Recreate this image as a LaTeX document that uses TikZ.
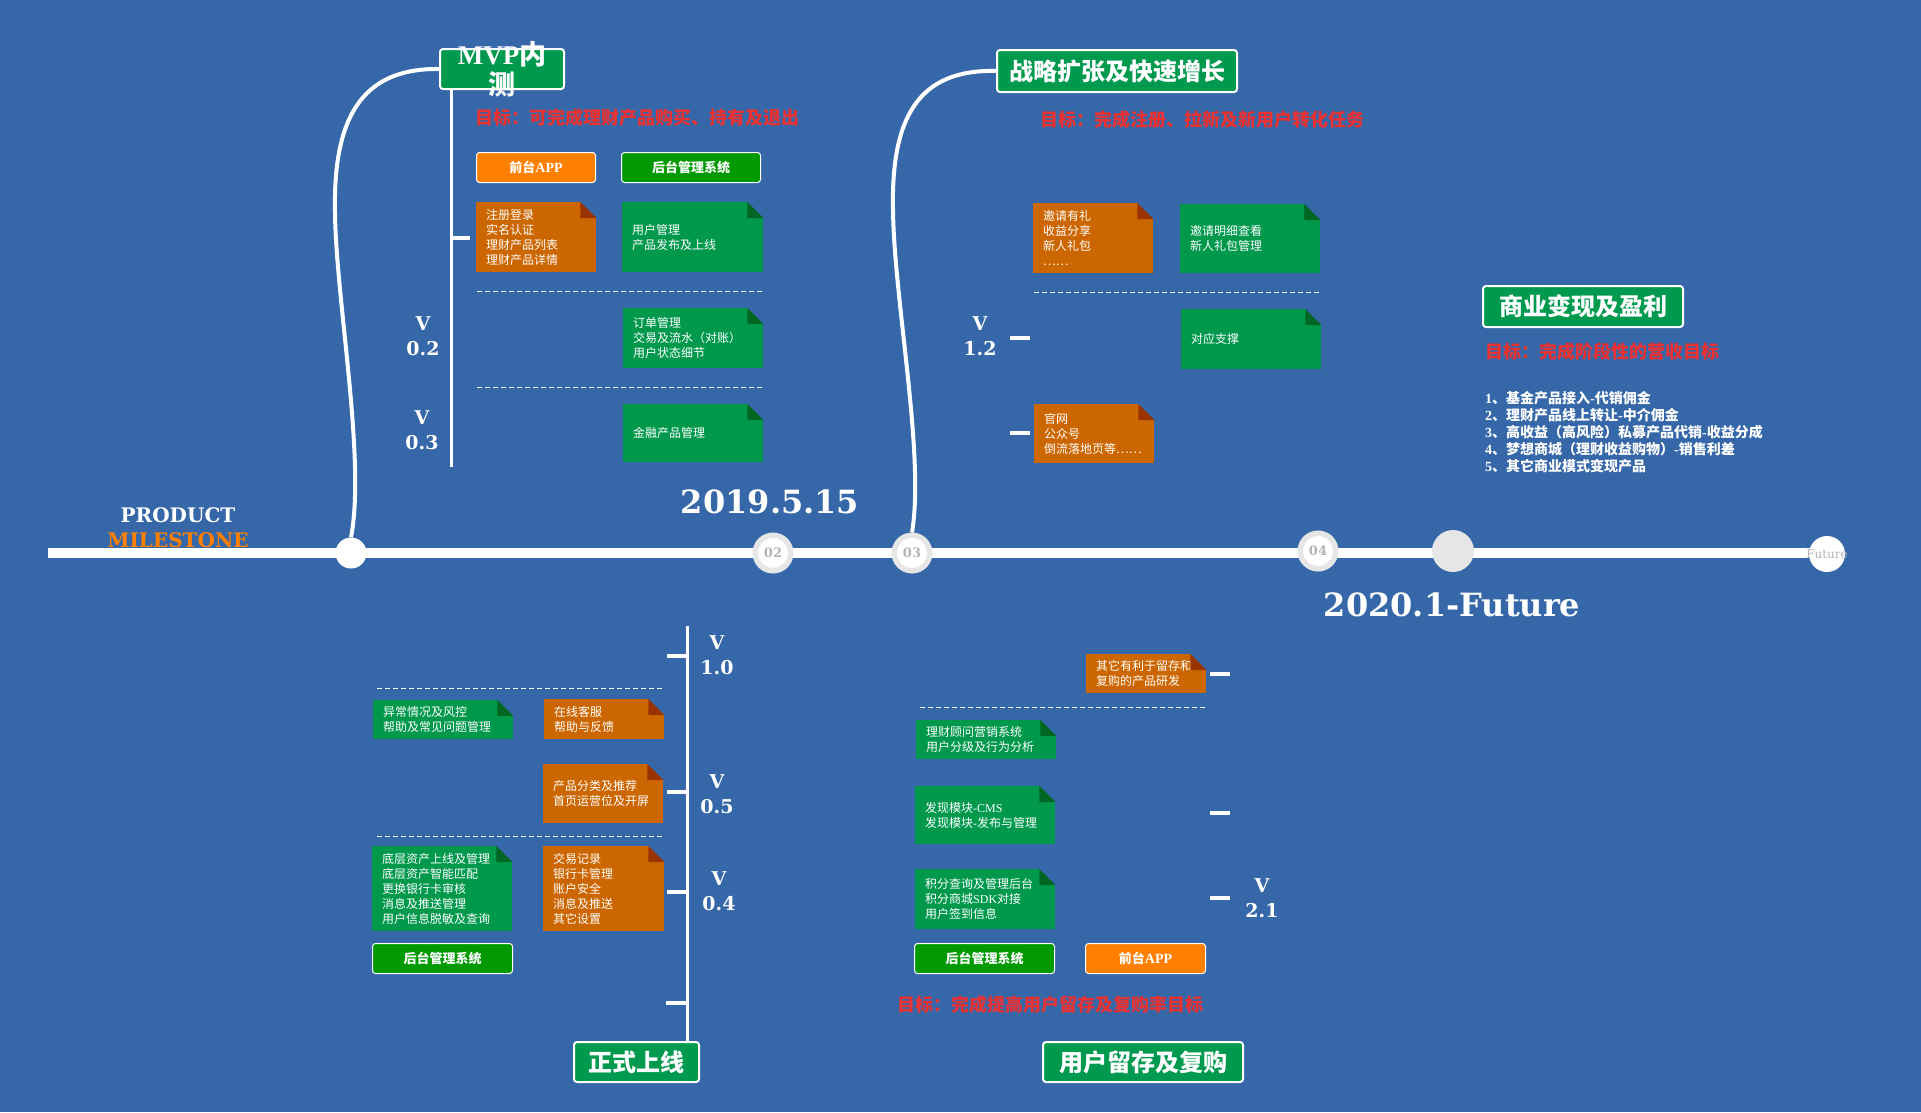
\documentclass[tikz,border=0pt]{standalone}
\usepackage{fontspec}
\setmainfont{Noto Sans CJK SC}
\newfontfamily\dvs{DejaVu Serif}
\newfontfamily\tms{Liberation Serif}
\usetikzlibrary{calc}
\definecolor{bgblue}{RGB}{53,103,169}
\definecolor{titlegreen}{RGB}{0,154,78}
\definecolor{notegreen}{RGB}{0,153,76}
\definecolor{foldgreen}{RGB}{0,102,34}
\definecolor{noteorange}{RGB}{204,102,0}
\definecolor{foldorange}{RGB}{153,51,0}
\definecolor{tagorange}{RGB}{255,128,0}
\definecolor{taggreen}{RGB}{0,153,0}
\definecolor{goalred}{RGB}{235,50,50}
\definecolor{ringgray}{RGB}{230,230,230}
\definecolor{numgray}{RGB}{180,180,180}
\newcommand\mynote[7]{%
  \pgfmathsetmacro\nw{#5-#3}\pgfmathsetmacro\nh{#6-#4}\pgfmathsetmacro\tw{#5-#3-20}%
  \node[notebox, fill=note#2, minimum width=\nw pt, minimum height=\nh pt, text width=\tw pt] (#1) at (#3,#4) {#7};
  \fill[bgblue] (#1.north east) -- ++(-16,0) -- ++(16,16) -- cycle;
  \fill[fold#2] ($(#1.north east)+(-16,0)$) -- ++(0,16) -- ++(16,0) -- cycle;
}
\begin{document}
\begin{tikzpicture}[x=1pt,y=-1pt,
  notebox/.style={anchor=north west, inner xsep=10pt, inner ysep=0pt, align=left, text=white,
    font=\fontsize{12}{15}\selectfont},
  tag/.style={anchor=north west, draw=white, line width=1pt, rounded corners=3pt, text=white,
    inner sep=0pt, font=\bfseries\fontsize{13}{13}\selectfont},
  titlebox/.style={anchor=north west, draw=white, line width=2pt, rounded corners=3pt, fill=titlegreen,
    text=white, inner sep=0pt, font=\bfseries\fontsize{24}{24}\selectfont},
  goal/.style={anchor=west, text=goalred, inner sep=0pt, font=\bfseries\fontsize{18}{18}\selectfont},
  ver/.style={align=center, text=white, inner sep=0pt, font=\dvs\bfseries\fontsize{19}{25}\selectfont},
  tickline/.style={draw=white, line width=3.5pt},
  vline/.style={draw=white, line width=3pt},
  sepline/.style={draw=white, line width=0.8pt, dash pattern=on 5pt off 3pt},
  curveline/.style={draw=white, line width=4pt},
  ring/.style={circle, draw=ringgray, line width=5.5pt, fill=white, minimum size=35.5pt, inner sep=0pt,
    text=numgray, font=\dvs\bfseries\fontsize{13}{13}\selectfont},
  bigdate/.style={text=white, inner sep=0pt, font=\dvs\bfseries\fontsize{32}{32}\selectfont}
]
\fill[bgblue] (0,0) rectangle (1921,1112);
\useasboundingbox (0,0) rectangle (1921,1112);

% timeline
\coordinate (tl0) at (48,553);
\coordinate (tl1) at (1827,553);
\draw[white, line width=10pt] (tl0) -- (tl1);
\node[circle, fill=white, minimum size=31pt, inner sep=0pt] (c1) at (351,553) {};
\node[ring] (c2) at (773,553) {02};
\node[ring] (c3) at (912,553) {03};
\node[ring] (c4) at (1318,551) {04};
\node[circle, fill=ringgray, minimum size=42pt, inner sep=0pt] (c5) at (1453,551) {};
\node[circle, fill=white, minimum size=36pt, inner sep=0pt] (c6) at (1827,554) {};
\node[text=numgray, inner sep=0pt, font=\dvs\fontsize{12}{12}\selectfont] (c6t) at (c6.center) {Future};

\node[text=white, inner sep=0pt, font=\dvs\bfseries\fontsize{20}{20}\selectfont] (prod) at (178,515) {PRODUCT};
\node[text=tagorange, inner sep=0pt, font=\dvs\bfseries\fontsize{20}{20}\selectfont] (mile) at (178,540) {MILESTONE};
\node[bigdate] (d1) at (770,502) {2019.5.15};
\node[bigdate] (d2) at (1452,605) {2020.1-Future};

% ===== MVP section
\node[titlebox, minimum width=124pt, minimum height=40pt] (mvp) at (439,48) {};
\node[align=center, text=white, inner sep=0pt, font=\bfseries\fontsize{27}{30}\selectfont] (mvpt) at (mvp.center)
  {{\tms MVP}内\\测};
\draw[curveline] (c1.north) .. controls (366,460) and (336,300) .. (335,213)
  .. controls (333,120) and (360,68) .. (mvp.west);
\coordinate (mvpend) at (451,467);
\draw[vline] (mvpend |- mvp.south) -- (mvpend);
\coordinate (mt1) at (470,238);
\draw[tickline] (mt1 -| mvpend) -- (mt1);
\node[goal] (g1) at (475,118) {目标：可完成理财产品购买、持有及退出};
\node[tag, fill=tagorange, minimum width=119pt, minimum height=30pt] (t1) at (476,152) {前台{\tms\fontsize{14}{14}\selectfont APP}};
\node[tag, fill=taggreen, minimum width=139pt, minimum height=30pt] (t2) at (621,152) {后台管理系统};
\mynote{n1}{orange}{476}{202}{596}{272}{注册登录\\实名认证\\理财产品列表\\理财产品详情}
\mynote{n2}{green}{622}{202}{763}{272}{用户管理\\产品发布及上线}
\mynote{n3}{green}{623}{308}{763}{368}{订单管理\\交易及流水（对账）\\用户状态细节}
\mynote{n4}{green}{623}{404}{763}{462}{金融产品管理}
\coordinate (s1a) at (477,291); \coordinate (s1b) at (763,291);
\draw[sepline] (s1a) -- (s1b);
\coordinate (s2a) at (477,387); \coordinate (s2b) at (763,387);
\draw[sepline] (s2a) -- (s2b);
\node[ver] (v02) at (423,336) {V\\0.2};
\node[ver] (v03) at (422,430) {V\\0.3};

% ===== Strategy section
\node[titlebox, minimum width=240pt, minimum height=42pt] (strat) at (996,49) {战略扩张及快速增长};
\draw[curveline] (c3.north) .. controls (925,455) and (894,300) .. (893,210)
  .. controls (891,118) and (918,69) .. (strat.west);
\node[goal] (g2) at (1040,120) {目标：完成注册、拉新及新用户转化任务};
\mynote{s1}{orange}{1033}{203}{1153}{273}{邀请有礼\\收益分享\\新人礼包\\……}
\mynote{s2}{green}{1180}{204}{1320}{273}{邀请明细查看\\新人礼包管理}
\mynote{s3}{green}{1181}{309}{1321}{369}{对应支撑}
\mynote{s4}{orange}{1034}{404}{1154}{463}{官网\\公众号\\倒流落地页等……}
\coordinate (s3a) at (1034,292); \coordinate (s3b) at (1321,292);
\draw[sepline] (s3a) -- (s3b);
\node[ver] (v12) at (980,336) {V\\1.2};
\coordinate (st1a) at (1010,338); \coordinate (st1b) at (1030,338);
\draw[tickline] (st1a) -- (st1b);
\coordinate (st2a) at (1010,433); \coordinate (st2b) at (1030,433);
\draw[tickline] (st2a) -- (st2b);

% ===== Commercial section
\node[titlebox, minimum width=200pt, minimum height=41pt] (biz) at (1482,285) {商业变现及盈利};
\node[goal] (g3) at (1485,352) {目标：完成阶段性的营收目标};
\node[anchor=west, align=left, text=white, inner sep=0pt, font=\bfseries\fontsize{14}{17}\selectfont] (list) at (1485,432)
  {{\tms 1}、基金产品接入{\tms -}代销佣金\\
   {\tms 2}、理财产品线上转让{\tms -}中介佣金\\
   {\tms 3}、高收益（高风险）私募产品代销{\tms -}收益分成\\
   {\tms 4}、梦想商城（理财收益购物）{\tms -}销售利差\\
   {\tms 5}、其它商业模式变现产品};

% ===== Launch section
\node[titlebox, minimum width=125pt, minimum height=40pt] (launch) at (573,1041) {正式上线};
\coordinate (ltop) at (687,626);
\draw[vline] (ltop) -- (ltop |- launch.north);
\coordinate (lt1) at (667,656); \draw[tickline] (lt1) -- (lt1 -| ltop);
\coordinate (lt2) at (667,792); \draw[tickline] (lt2) -- (lt2 -| ltop);
\coordinate (lt3) at (667,892); \draw[tickline] (lt3) -- (lt3 -| ltop);
\coordinate (lt4) at (666,1003); \draw[tickline] (lt4) -- (lt4 -| ltop);
\node[ver] (v10) at (717,655) {V\\1.0};
\node[ver] (v05) at (717,794) {V\\0.5};
\node[ver] (v04) at (719,891) {V\\0.4};
\coordinate (s4a) at (377,688); \coordinate (s4b) at (662,688);
\draw[sepline] (s4a) -- (s4b);
\coordinate (s5a) at (377,836); \coordinate (s5b) at (662,836);
\draw[sepline] (s5a) -- (s5b);
\mynote{b1}{green}{373}{700}{513}{739}{异常情况及风控\\帮助及常见问题管理}
\mynote{b2}{orange}{544}{699}{664}{739}{在线客服\\帮助与反馈}
\mynote{b3}{orange}{543}{764}{663}{823}{产品分类及推荐\\首页运营位及开屏}
\mynote{b4}{green}{372}{846}{512}{931}{底层资产上线及管理\\底层资产智能匹配\\更换银行卡审核\\消息及推送管理\\用户信息脱敏及查询}
\mynote{b5}{orange}{543}{846}{664}{931}{交易记录\\银行卡管理\\账户安全\\消息及推送\\其它设置}
\node[tag, fill=taggreen, minimum width=140pt, minimum height=30pt] (t3) at (372,943) {后台管理系统};

% ===== Retention section
\node[titlebox, minimum width=200pt, minimum height=40pt] (ret) at (1042,1041) {用户留存及复购};
\node[goal] (g4) at (897,1005) {目标：完成提高用户留存及复购率目标};
\mynote{r1}{orange}{1086}{654}{1206}{693}{其它有利于留存和\\复购的产品研发}
\mynote{r2}{green}{916}{720}{1056}{759}{理财顾问营销系统\\用户分级及行为分析}
\mynote{r3}{green}{915}{786}{1055}{844}{发现模块{\tms -CMS}\\发现模块{\tms -}发布与管理}
\mynote{r4}{green}{915}{869}{1055}{929}{积分查询及管理后台\\积分商城{\tms SDK}对接\\用户签到信息}
\coordinate (s6a) at (920,707); \coordinate (s6b) at (1205,707);
\draw[sepline] (s6a) -- (s6b);
\coordinate (rt1a) at (1210,674); \coordinate (rt1b) at (1230,674);
\draw[tickline] (rt1a) -- (rt1b);
\coordinate (rt2a) at (1210,813); \coordinate (rt2b) at (1230,813);
\draw[tickline] (rt2a) -- (rt2b);
\coordinate (rt3a) at (1210,898); \coordinate (rt3b) at (1230,898);
\draw[tickline] (rt3a) -- (rt3b);
\node[ver] (v21) at (1262,898) {V\\2.1};
\node[tag, fill=taggreen, minimum width=140pt, minimum height=30pt] (t4) at (914,943) {后台管理系统};
\node[tag, fill=tagorange, minimum width=120pt, minimum height=30pt] (t5) at (1085,943) {前台{\tms\fontsize{14}{14}\selectfont APP}};
\end{tikzpicture}
\end{document}
